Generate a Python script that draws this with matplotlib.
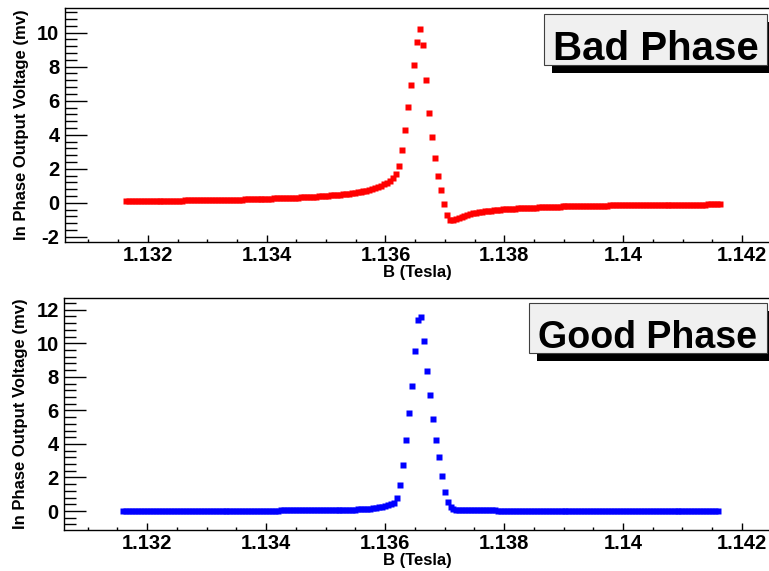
import numpy as np
import matplotlib.pyplot as plt
from matplotlib.patches import Rectangle
from matplotlib.ticker import MultipleLocator, FuncFormatter

plt.rcParams['font.family'] = ['Liberation Sans', 'DejaVu Sans']
plt.rcParams['font.weight'] = 'bold'

# field sweep: 201 readings, 0.05 mT apart
n_pts = 201
b_step = 0.00005
b_start_bad = 1.13163
b_start_good = 1.13160

# lock-in output, phase set wrong (mixed absorption + dispersion)
v_bad = [
    0.10, 0.10, 0.10, 0.10, 0.11, 0.11, 0.11, 0.11, 0.11, 0.11,
    0.12, 0.12, 0.12, 0.12, 0.12, 0.13, 0.13, 0.13, 0.13, 0.13,
    0.14, 0.14, 0.14, 0.14, 0.15, 0.15, 0.15, 0.15, 0.16, 0.16,
    0.16, 0.17, 0.17, 0.17, 0.18, 0.18, 0.18, 0.19, 0.19, 0.19,
    0.20, 0.20, 0.21, 0.21, 0.21, 0.22, 0.22, 0.23, 0.23, 0.24,
    0.25, 0.25, 0.26, 0.26, 0.27, 0.28, 0.29, 0.29, 0.30, 0.31,
    0.32, 0.33, 0.34, 0.35, 0.36, 0.37, 0.38, 0.40, 0.41, 0.43,
    0.44, 0.46, 0.48, 0.49, 0.52, 0.54, 0.56, 0.59, 0.62, 0.65,
    0.68, 0.72, 0.77, 0.81, 0.87, 0.93, 1.00, 1.08, 1.17, 1.28,
    1.45, 1.69, 2.16, 3.10, 4.30, 5.61, 6.90, 8.08, 9.45, 10.22,
    9.29, 7.20, 5.29, 3.88, 2.61, 1.57, 0.73, -0.08, -0.72, -1.04,
    -1.02, -0.98, -0.90, -0.83, -0.77, -0.72, -0.67, -0.63, -0.60, -0.56,
    -0.54, -0.51, -0.49, -0.46, -0.45, -0.43, -0.41, -0.39, -0.38, -0.37,
    -0.35, -0.34, -0.33, -0.32, -0.31, -0.30, -0.29, -0.29, -0.28, -0.27,
    -0.26, -0.26, -0.25, -0.24, -0.24, -0.23, -0.23, -0.22, -0.22, -0.21,
    -0.21, -0.20, -0.20, -0.20, -0.19, -0.19, -0.19, -0.18, -0.18, -0.18,
    -0.17, -0.17, -0.17, -0.16, -0.16, -0.16, -0.16, -0.15, -0.15, -0.15,
    -0.15, -0.14, -0.14, -0.14, -0.14, -0.14, -0.13, -0.13, -0.13, -0.13,
    -0.13, -0.13, -0.12, -0.12, -0.12, -0.12, -0.12, -0.12, -0.11, -0.11,
    -0.11, -0.11, -0.11, -0.11, -0.11, -0.11, -0.10, -0.10, -0.10, -0.10,
    -0.10,
]

# lock-in output, phase tuned (pure absorption)
v_good = [
    0.02, 0.02, 0.02, 0.02, 0.02, 0.02, 0.02, 0.02, 0.02, 0.02,
    0.02, 0.02, 0.02, 0.02, 0.02, 0.02, 0.02, 0.02, 0.02, 0.02,
    0.02, 0.02, 0.02, 0.02, 0.02, 0.02, 0.02, 0.02, 0.02, 0.02,
    0.03, 0.03, 0.03, 0.03, 0.03, 0.03, 0.03, 0.03, 0.03, 0.03,
    0.03, 0.03, 0.03, 0.03, 0.03, 0.03, 0.03, 0.03, 0.03, 0.03,
    0.03, 0.03, 0.03, 0.04, 0.04, 0.04, 0.04, 0.04, 0.04, 0.04,
    0.04, 0.04, 0.04, 0.05, 0.05, 0.05, 0.05, 0.05, 0.05, 0.06,
    0.06, 0.06, 0.07, 0.07, 0.07, 0.08, 0.08, 0.09, 0.09, 0.10,
    0.11, 0.12, 0.13, 0.14, 0.16, 0.18, 0.21, 0.24, 0.28, 0.33,
    0.40, 0.49, 0.77, 1.55, 2.76, 4.25, 5.86, 7.45, 9.55, 11.42,
    11.58, 10.11, 8.34, 6.90, 5.46, 4.23, 3.20, 2.10, 1.15, 0.54,
    0.22, 0.12, 0.09, 0.08, 0.07, 0.06, 0.06, 0.05, 0.05, 0.04,
    0.04, 0.04, 0.04, 0.04, 0.04, 0.04, 0.03, 0.03, 0.03, 0.03,
    0.03, 0.03, 0.03, 0.03, 0.03, 0.03, 0.03, 0.03, 0.03, 0.03,
    0.03, 0.02, 0.02, 0.02, 0.02, 0.02, 0.02, 0.02, 0.02, 0.02,
    0.02, 0.02, 0.02, 0.02, 0.02, 0.02, 0.02, 0.02, 0.02, 0.02,
    0.02, 0.02, 0.02, 0.02, 0.02, 0.02, 0.02, 0.02, 0.02, 0.02,
    0.02, 0.02, 0.02, 0.02, 0.02, 0.02, 0.02, 0.02, 0.02, 0.02,
    0.02, 0.02, 0.02, 0.02, 0.02, 0.02, 0.02, 0.02, 0.02, 0.02,
    0.02, 0.02, 0.02, 0.02, 0.02, 0.02, 0.02, 0.02, 0.02, 0.02,
    0.02,
]

b_bad = b_start_bad + b_step * np.arange(n_pts)
b_good = b_start_good + b_step * np.arange(n_pts)

W, H = 769, 571
fig = plt.figure(figsize=(W / 100, H / 100), dpi=100)


def px_axes(x0, y0, x1, y1):
    return fig.add_axes([x0 / W, 1 - y1 / H, (x1 - x0) / W, (y1 - y0) / H])


def style(ax, ylim):
    ax.set_xlim(1.130606, 1.142472)
    ax.set_ylim(*ylim)
    ax.xaxis.set_major_locator(MultipleLocator(0.002))
    ax.xaxis.set_minor_locator(MultipleLocator(0.0005))
    ax.yaxis.set_major_locator(MultipleLocator(2))
    ax.yaxis.set_minor_locator(MultipleLocator(0.4))
    fmt = FuncFormatter(lambda v, p: '%g' % round(v, 4))
    ax.xaxis.set_major_formatter(fmt)
    ax.yaxis.set_major_formatter(fmt)
    ax.tick_params(axis='both', which='both', direction='in', color='black',
                   labelsize=14.5, width=1.0)
    ax.tick_params(axis='y', which='major', length=16, pad=4)
    ax.tick_params(axis='y', which='minor', length=8.5)
    ax.tick_params(axis='x', which='major', length=5, pad=3)
    ax.tick_params(axis='x', which='minor', length=2.5)
    ax.spines['right'].set_visible(False)
    for s in ('left', 'bottom', 'top'):
        ax.spines[s].set_linewidth(1.0)
    ax.set_xlabel('B (Tesla)', fontsize=12, fontweight='bold', labelpad=0)
    ax.set_ylabel('In Phase Output Voltage (mv)', fontsize=12,
                  fontweight='bold', labelpad=6)


def label_box(x0, y0, x1, y1, text, size, baseline):
    fig.add_artist(Rectangle(((x0 + 8) / W, 1 - (y1 + 8) / H),
                             (x1 - x0) / W, (y1 - y0) / H,
                             transform=fig.transFigure, fc='black', ec='none'))
    fig.add_artist(Rectangle((x0 / W, 1 - y1 / H), (x1 - x0) / W, (y1 - y0) / H,
                             transform=fig.transFigure, fc='#f0f0f0',
                             ec='#404040', lw=0.8))
    fig.text((x0 + x1) / 2 / W, 1 - baseline / H, text, ha='center',
             va='baseline', fontsize=size, fontweight='bold', color='black')


ax1 = px_axes(65, 7.5, 770, 241.7)
ax1.plot(b_bad, v_bad, 's', color='#ff0000', ms=3.7, mec='none')
style(ax1, (-2.29, 11.48))

ax2 = px_axes(64.3, 297.7, 770, 530.3)
ax2.plot(b_good, v_good, 's', color='#0000ff', ms=3.7, mec='none')
style(ax2, (-1.15, 12.72))

label_box(544, 14, 767, 65, 'Bad Phase', 29, 59.5)
label_box(529, 303, 767, 353, 'Good Phase', 27, 348.5)

fig.savefig('out.png', dpi=100)
